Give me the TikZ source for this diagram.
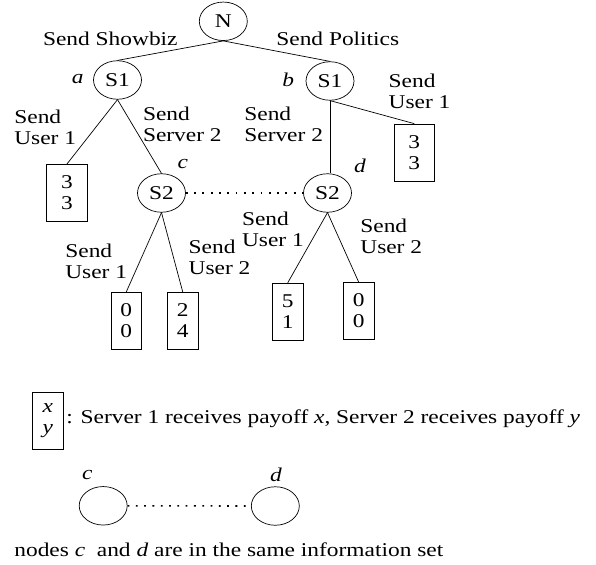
\documentclass[tikz,border=0pt]{standalone}
\usepackage{fontspec}
\setmainfont{Liberation Serif}[FakeStretch=1.2]
\usetikzlibrary{shapes.geometric}

\tikzset{
  player/.style={ellipse, draw, minimum width=48pt, minimum height=38.5pt, inner sep=0pt},
  payoff/.style={draw, minimum width=30.5pt, minimum height=57pt, inner sep=0pt, align=center},
  move/.style={anchor=west, inner sep=0pt, align=left},
  infoset/.style={line width=1.6pt, dash pattern=on 1.8pt off 6.5pt},
}

\begin{document}
\begin{tikzpicture}[x=1pt, y=-1pt, line width=0.7pt, font=\fontsize{19.5}{21}\selectfont]
  \useasboundingbox (0,0) rectangle (596,564);
  % decision nodes
  \node[player] (n)   at (223.3,21.3) {N};
  \node[player] (s1a) at (117.5,80)   {S1};
  \node[player] (s1b) at (330,81)     {S1};
  \node[player] (s2c) at (161.5,193)  {S2};
  \node[player] (s2d) at (327.5,193)  {S2};
  \node[inner sep=0pt] (la) at (77.7,79)   {\textit{a}};
  \node[inner sep=0pt] (lb) at (288.3,80)  {\textit{b}};
  \node[inner sep=0pt] (lc) at (182.7,164) {\textit{c}};
  \node[inner sep=0pt] (ld) at (360,165.7) {\textit{d}};
  % payoffs
  \node[payoff, minimum width=40.5pt] (p1) at (67,192.8)    {3\\3};
  \node[payoff, minimum width=40pt]   (p2) at (414.3,152.5) {3\\3};
  \node[payoff] (p3) at (126.3,320.7) {0\\0};
  \node[payoff] (p4) at (182.7,320.7) {2\\4};
  \node[payoff] (p5) at (287.7,311.7) {5\\1};
  \node[payoff] (p6) at (358.7,311)   {0\\0};
  % moves
  \draw (n.south) -- (s1a.north);
  \draw (n.south) -- (s1b.north);
  \draw (s1a.south) -- (p1.north);
  \draw (s1a.south) -- (s2c.north);
  \draw (s1b.south) -- (s1b.south |- s2d.north);
  \draw (s1b.south) -- (p2.north);
  \draw (s2c.south) -- (p3.north);
  \draw (s2c.south) -- (p4.north);
  \draw (s2d.south) -- (p5.north);
  \draw (s2d.south) -- (p6.north);
  \draw[infoset] (s2c.east) -- (s2d.west);
  \node[move] (m1)  at (42.7,38.7)  {Send Showbiz};
  \node[move] (m2)  at (276,38.7)   {Send Politics};
  \node[move] (m3)  at (14,127.8)   {Send\\User 1};
  \node[move] (m4)  at (142.7,124.2) {Send\\Server 2};
  \node[move] (m5)  at (244,124.2)  {Send\\Server 2};
  \node[move] (m6)  at (388.3,91.4) {Send\\User 1};
  \node[move] (m7)  at (65,261.3)   {Send\\User 1};
  \node[move] (m8)  at (188.3,257.2) {Send\\User 2};
  \node[move] (m9)  at (241.7,228.9) {Send\\User 1};
  \node[move] (m10) at (360,236.3)  {Send\\User 2};
  % legend
  \node[payoff] (key) at (47.8,420.7) {\textit{x}\\\textit{y}};
  \node[move] (keytext) at (66,419) {: Server 1 receives payoff \textit{x}, Server 2 receives payoff \textit{y}};
  \node[player] (kc) at (103.2,505.8) {};
  \node[player] (kd) at (275.3,506) {};
  \node[inner sep=0pt] (klc) at (87.3,475) {\textit{c}};
  \node[inner sep=0pt] (kld) at (276,475)  {\textit{d}};
  \draw[infoset] (kc.east) -- (kd.west);
  \node[anchor=base west, inner sep=0pt] (note) at (14,556) {nodes \textit{c}~ and \textit{d} are in the same information set};
\end{tikzpicture}
\end{document}
